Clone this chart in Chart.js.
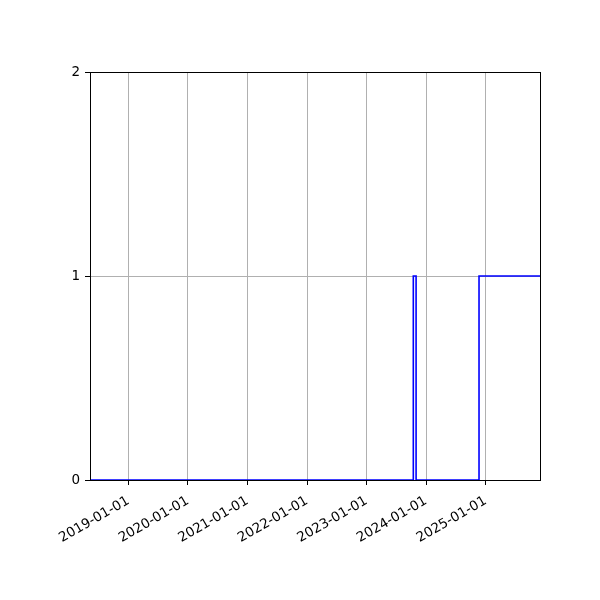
<!DOCTYPE html>
<html><head><meta charset="utf-8">
<script src="https://cdn.jsdelivr.net/npm/chart.js@4"></script>
<style>html,body{margin:0;padding:0;background:#fff}canvas{display:block}</style>
</head><body>
<canvas id="c" width="600" height="600" style="width:600px;height:600px"></canvas>
<script>
const stepDates = ['2018-05-11','2023-10-15','2023-11-01','2024-11-21','2025-11-30'];
const stepValues = [0, 1, 0, 1, 1];
const xTickLabels = ['2019-01-01','2020-01-01','2021-01-01','2022-01-01','2023-01-01','2024-01-01','2025-01-01'];
const yTickValues = [0, 1, 2];
const xMin = '2018-05-11', xMax = '2025-11-30';

const ts = s => Date.parse(s + 'T00:00:00Z');
const pts = stepDates.map((d, i) => ({x: ts(d), y: stepValues[i]}));
const pad2 = n => String(n).padStart(2, '0');
const fmt = v => { const d = new Date(v); return d.getUTCFullYear() + '-' + pad2(d.getUTCMonth()+1) + '-' + pad2(d.getUTCDate()); };

const frame = {
  id: 'frame',
  afterDraw(chart) {
    const a = chart.chartArea, ctx = chart.ctx;
    ctx.save(); ctx.strokeStyle = '#000'; ctx.lineWidth = 1;
    ctx.strokeRect(Math.round(a.left) + 0.5, Math.round(a.top) + 0.5, Math.round(a.right - a.left), Math.round(a.bottom - a.top));
    ctx.restore();
  }
};

Chart.defaults.font.family = 'DejaVu Sans';
Chart.defaults.font.size = 13.5;
Chart.defaults.color = '#000';

new Chart(document.getElementById('c'), {
  type: 'line',
  data: { datasets: [{ data: pts, borderColor: '#0000ff', borderWidth: 1.6, pointRadius: 0, stepped: 'before', fill: false }] },
  options: {
    responsive: false, animation: false,
    layout: { padding: { left: 0, top: 72, right: 60, bottom: 0 } },
    plugins: { legend: { display: false }, tooltip: { enabled: false } },
    scales: {
      x: {
        type: 'linear', min: ts(xMin), max: ts(xMax),
        afterBuildTicks: s => { s.ticks = xTickLabels.map(l => ({ value: ts(l) })); },
        afterFit: s => { s.height = 120; },
        ticks: { callback: v => fmt(v), minRotation: 30, maxRotation: 30, padding: 8, autoSkip: false, color: '#000' },
        grid: { color: '#b0b0b0', lineWidth: 1, tickLength: 5, tickColor: '#000', drawOnChartArea: true },
        border: { display: false }
      },
      y: {
        min: 0, max: 2,
        afterBuildTicks: s => { s.ticks = yTickValues.map(v => ({ value: v })); },
        afterFit: s => { s.width = 90; },
        ticks: { padding: 5, color: '#000', callback: v => String(v) },
        grid: { color: '#b0b0b0', lineWidth: 1, tickLength: 5, tickColor: '#000' },
        border: { display: false }
      }
    }
  },
  plugins: [frame]
});
</script>
</body></html>
